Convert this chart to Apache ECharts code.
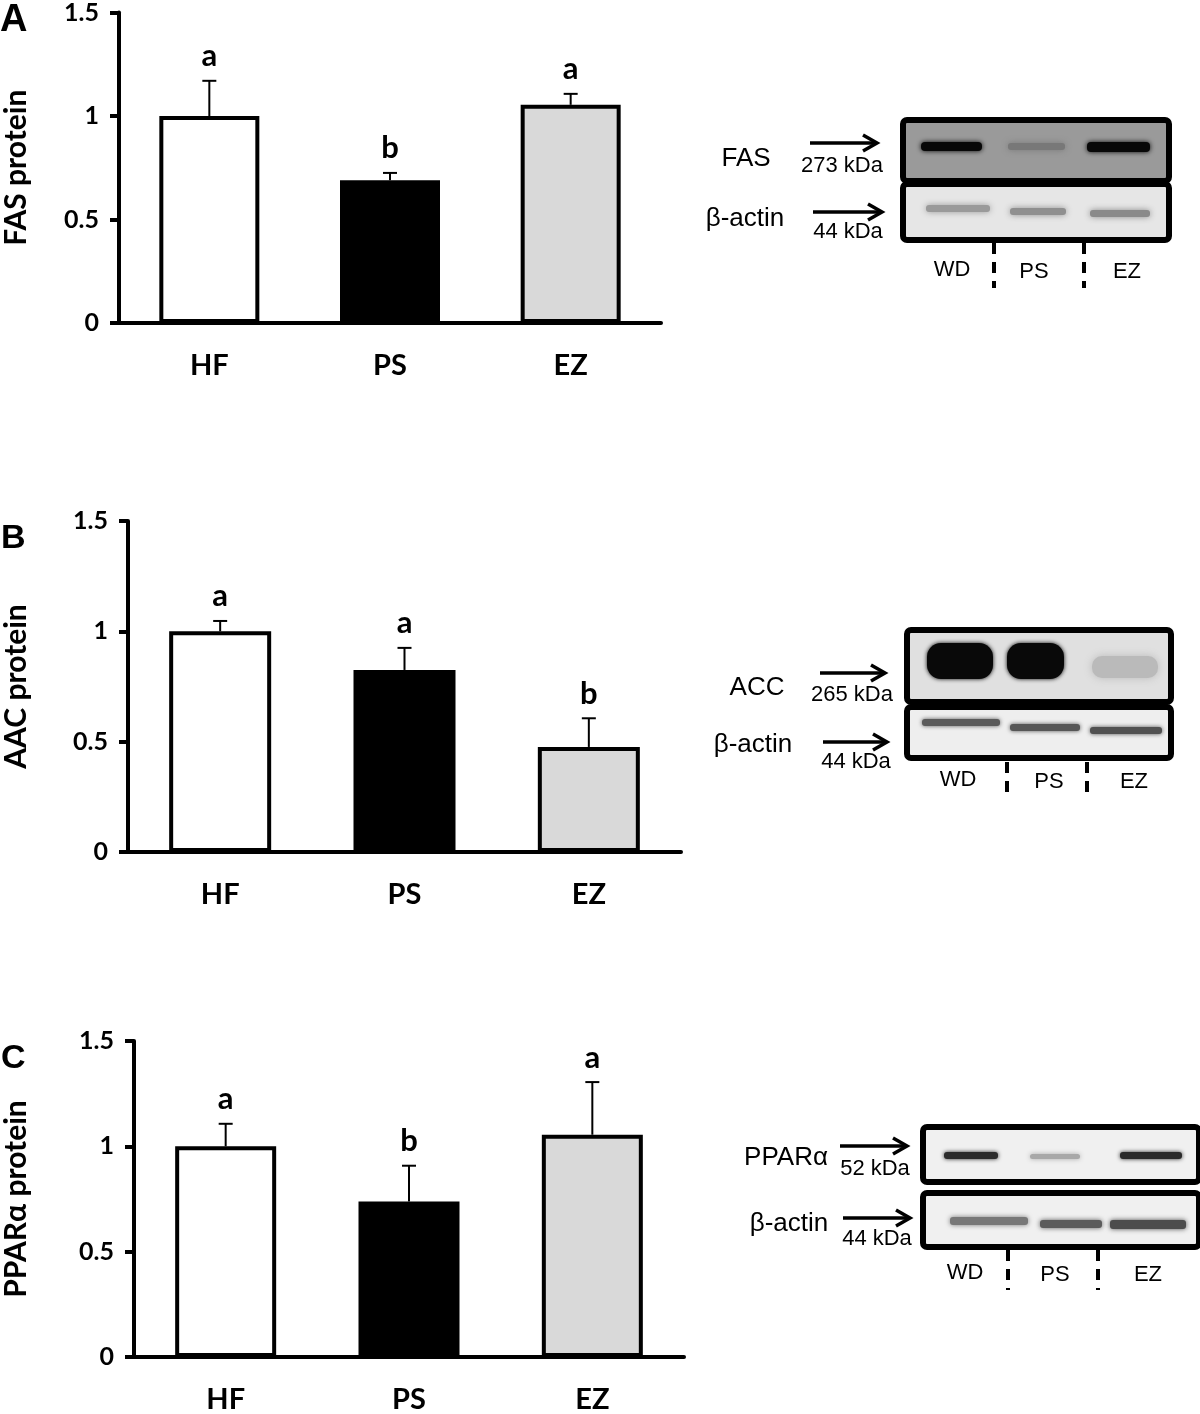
<!DOCTYPE html>
<html><head><meta charset="utf-8">
<script src="https://cdn.jsdelivr.net/npm/echarts@6/dist/echarts.min.js"></script>
<style>html,body{margin:0;padding:0;background:#fff}#c{width:1200px;height:1414px}</style>
</head><body><div id="c"></div>
<script>
// ---------- data ----------
const categories = ['HF', 'PS', 'EZ'];
const yTicks = [0, 0.5, 1, 1.5];

const fasMean = [1.00, 0.69, 1.054];
const fasErr = [0.17, 0.035, 0.053];
const fasLetters = ['a', 'b', 'a'];

const accMean = [1.00, 0.825, 0.476];
const accErr = [0.047, 0.10, 0.13];
const accLetters = ['a', 'a', 'b'];

const pparMean = [1.00, 0.738, 1.055];
const pparErr = [0.107, 0.17, 0.25];
const pparLetters = ['a', 'b', 'a'];

const barColors = ['#ffffff', '#000000', '#d9d9d9'];
const laneLabels = ['WD', 'PS', 'EZ'];

// western blot band intensities (0 = none, 1 = black), read from the blots
const fasBand = [0.95, 0.22, 0.95];
const fasActin = [0.33, 0.38, 0.40];
const accBand = [0.96, 0.96, 0.17];
const accActin = [0.62, 0.64, 0.66];
const pparBand = [0.82, 0.30, 0.82];
const pparActin = [0.50, 0.62, 0.68];

// ---------- chart ----------
const FONT = 'Lato';
const panels = [
  { mean: fasMean, err: fasErr, letters: fasLetters, name: 'FAS protein',
    grid: { left: 118, top: 10, width: 543, height: 313 }, nameGap: 88, barWidth: 100 },
  { mean: accMean, err: accErr, letters: accLetters, name: 'AAC protein',
    grid: { left: 127, top: 521, width: 554, height: 331 }, nameGap: 97, barWidth: 102 },
  { mean: pparMean, err: pparErr, letters: pparLetters, name: 'PPARα protein',
    grid: { left: 133, top: 1041, width: 551, height: 317 }, nameGap: 103, barWidth: 101 }
];

const grids = [], xAxes = [], yAxes = [], series = [];
panels.forEach((p, i) => {
  grids.push(p.grid);
  xAxes.push({
    gridIndex: i, type: 'category', data: categories,
    axisLine: { lineStyle: { color: '#000', width: 4 } },
    axisTick: { length: 9, lineStyle: { color: '#000', width: 4 } },
    axisLabel: { fontFamily: FONT, fontWeight: 'bold', fontSize: 29, color: '#000', margin: 28 }
  });
  yAxes.push({
    gridIndex: i, type: 'value', min: yTicks[0], max: yTicks[yTicks.length - 1], interval: yTicks[1] - yTicks[0],
    axisLine: { show: true, lineStyle: { color: '#000', width: 4 } },
    axisTick: { show: true, length: 9, lineStyle: { color: '#000', width: 4 } },
    splitLine: { show: false },
    axisLabel: { fontFamily: FONT, fontWeight: 'bold', fontSize: 25, color: '#000', margin: 20 },
    name: p.name, nameLocation: 'middle', nameGap: p.nameGap,
    nameTextStyle: { fontFamily: FONT, fontWeight: 'bold', fontSize: 30, color: '#000' }
  });
  series.push({
    type: 'bar', xAxisIndex: i, yAxisIndex: i, barWidth: p.barWidth, z: 2,
    itemStyle: { borderColor: '#000', borderWidth: 4 },
    data: p.mean.map((v, j) => ({ value: v, itemStyle: { color: barColors[j] } }))
  });
  series.push({
    type: 'custom', xAxisIndex: i, yAxisIndex: i, z: 3,
    data: p.mean.map((v, j) => [j, v, p.err[j]]),
    renderItem: function (params, api) {
      const base = api.coord([api.value(0), api.value(1)]);
      const top = api.coord([api.value(0), api.value(1) + api.value(2)]);
      const x = base[0];
      return {
        type: 'group',
        children: [
          { type: 'line', shape: { x1: x, y1: base[1], x2: x, y2: top[1] }, style: { stroke: '#000', lineWidth: 2 } },
          { type: 'line', shape: { x1: x - 7, y1: top[1], x2: x + 7, y2: top[1] }, style: { stroke: '#000', lineWidth: 2 } },
          { type: 'text', x: x, y: top[1] - 9,
            style: { text: p.letters[params.dataIndex], fontFamily: FONT, fontWeight: 'bold', fontSize: 31,
                     fill: '#000', align: 'center', verticalAlign: 'bottom' } }
        ]
      };
    }
  });
});

// ---------- western blot drawings ----------
const graphics = [];
function txt(x, y, s, size, opts) {
  graphics.push({ type: 'text', x: x, y: y, z: 10,
    style: Object.assign({ text: s, fontFamily: 'Liberation Sans', fontSize: size, fill: '#000',
      align: 'center', verticalAlign: 'middle' }, opts || {}) });
}
function arrow(x1, x2, y) {
  graphics.push({ type: 'line', z: 10, shape: { x1: x1, y1: y, x2: x2 - 2, y2: y }, style: { stroke: '#000', lineWidth: 3.5 } });
  graphics.push({ type: 'polyline', z: 10, shape: { points: [[x2 - 14, y - 8], [x2, y], [x2 - 14, y + 8]] },
    style: { stroke: '#000', lineWidth: 3.5, fill: null } });
}
function shade(bg, k) {
  const g = Math.round(bg * (1 - k));
  return 'rgb(' + g + ',' + g + ',' + g + ')';
}
function box(x, y, w, h, bgGray, bands, intens) {
  const bg = 'rgb(' + bgGray + ',' + bgGray + ',' + bgGray + ')';
  graphics.push({ type: 'rect', z: 4, shape: { x: x, y: y, width: w, height: h, r: 4 }, style: { fill: bg } });
  bands.forEach((b, j) => {
    const c = shade(bgGray, intens[j]);
    graphics.push({ type: 'rect', z: 5, shape: { x: b[0], y: b[1], width: b[2], height: b[3], r: b[4] },
      style: { fill: c, shadowBlur: b[5], shadowColor: c } });
  });
  graphics.push({ type: 'rect', z: 6, shape: { x: x, y: y, width: w, height: h, r: 4 },
    style: { fill: null, stroke: '#000', lineWidth: 6 } });
}
function dash(x, y1, y2) {
  graphics.push({ type: 'line', z: 10, shape: { x1: x, y1: y1, x2: x, y2: y2 },
    style: { stroke: '#000', lineWidth: 4, lineDash: [11, 8] } });
}

// Panel A blot
txt(746, 159, 'FAS', 26);
arrow(810, 877, 143);
txt(842, 166, '273 kDa', 22);
txt(745, 219, 'β-actin', 26);
arrow(813, 882, 212);
txt(848, 232, '44 kDa', 22);
box(903, 120, 266, 61, 154, [[921, 142, 61, 9, 4, 5], [1008, 143, 57, 7, 3, 6], [1087, 142, 63, 10, 4, 5]], fasBand);
box(903, 184, 266, 56, 230, [[926, 205, 64, 7, 3, 6], [1010, 208, 56, 7, 3, 6], [1090, 210, 60, 7, 3, 6]], fasActin);
dash(994, 243, 288); dash(1084, 243, 288);
txt(952, 270, laneLabels[0], 22); txt(1034, 272, laneLabels[1], 22); txt(1127, 272, laneLabels[2], 22);

// Panel B blot
txt(757, 688, 'ACC', 26);
arrow(820, 885, 673);
txt(852, 695, '265 kDa', 22);
txt(753, 745, 'β-actin', 26);
arrow(823, 887, 742);
txt(856, 762, '44 kDa', 22);
box(907, 630, 264, 72, 224, [[927, 643, 66, 36, 14, 4], [1007, 643, 57, 36, 14, 4], [1092, 656, 66, 22, 10, 9]], accBand);
box(907, 707, 264, 51, 238, [[922, 719, 78, 7, 3, 4], [1010, 724, 70, 7, 3, 4], [1090, 727, 72, 7, 3, 4]], accActin);
dash(1007, 762, 797); dash(1087, 762, 797);
txt(958, 780, laneLabels[0], 22); txt(1049, 782, laneLabels[1], 22); txt(1134, 782, laneLabels[2], 22);

// Panel C blot
txt(786, 1158, 'PPARα', 26);
arrow(840, 907, 1146);
txt(875, 1169, '52 kDa', 22);
txt(789, 1224, 'β-actin', 26);
arrow(843, 910, 1218);
txt(877, 1239, '44 kDa', 22);
box(923, 1127, 276, 55, 240, [[944, 1152, 54, 7, 3, 4], [1030, 1154, 50, 5, 3, 5], [1120, 1152, 62, 7, 3, 4]], pparBand);
box(923, 1193, 276, 54, 240, [[950, 1217, 78, 8, 3, 5], [1040, 1220, 62, 8, 3, 5], [1110, 1220, 76, 9, 3, 5]], pparActin);
dash(1008, 1250, 1290); dash(1098, 1250, 1290);
txt(965, 1273, laneLabels[0], 22); txt(1055, 1275, laneLabels[1], 22); txt(1148, 1275, laneLabels[2], 22);

// Panel letters
txt(0, 2, 'A', 38, { fontWeight: 'bold', align: 'left', verticalAlign: 'top' });
txt(1, 522, 'B', 34, { fontWeight: 'bold', align: 'left', verticalAlign: 'top' });
txt(1, 1042, 'C', 34, { fontWeight: 'bold', align: 'left', verticalAlign: 'top' });

const chart = echarts.init(document.getElementById('c'), null, { renderer: 'canvas' });
chart.setOption({
  backgroundColor: '#ffffff',
  animation: false,
  grid: grids, xAxis: xAxes, yAxis: yAxes, series: series,
  graphic: { elements: graphics }
});
</script></body></html>
